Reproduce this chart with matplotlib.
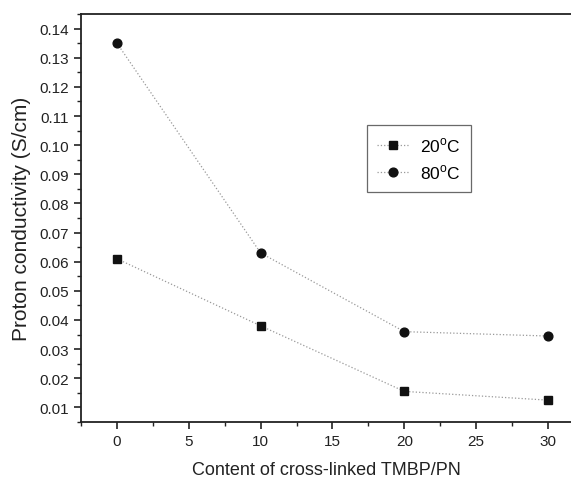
import matplotlib
matplotlib.use("Agg")
import matplotlib.pyplot as plt
from matplotlib.ticker import MultipleLocator

plt.rcParams['font.family'] = ['Liberation Sans', 'DejaVu Sans']
plt.rcParams['mathtext.fontset'] = 'custom'
plt.rcParams['mathtext.rm'] = 'Liberation Sans'

content = [0, 10, 20, 30]
cond_20C = [0.061, 0.038, 0.0155, 0.0125]
cond_80C = [0.135, 0.063, 0.036, 0.0345]
labels = ['20$^{\\mathrm{o}}$C', '80$^{\\mathrm{o}}$C']

fig = plt.figure(figsize=(5.71, 4.81), dpi=100)
ax = fig.add_axes([0.1419, 0.1206, 0.8581, 0.8482])

ax.plot(content, cond_20C, linestyle=':', color='#999999', lw=0.9,
        marker='s', markersize=5.5, markerfacecolor='#111111', markeredgecolor='#111111',
        label=labels[0])
ax.plot(content, cond_80C, linestyle=':', color='#999999', lw=0.9,
        marker='o', markersize=6.3, markerfacecolor='#111111', markeredgecolor='#111111',
        label=labels[1])

ax.set_xlim(-2.5, 31.6)
ax.set_ylim(0.005, 0.145)
ax.xaxis.set_major_locator(MultipleLocator(5))
ax.xaxis.set_minor_locator(MultipleLocator(2.5))
ax.yaxis.set_major_locator(MultipleLocator(0.01))
ax.yaxis.set_minor_locator(MultipleLocator(0.005))
ax.yaxis.set_major_formatter(matplotlib.ticker.FormatStrFormatter('%.2f'))

ax.spines['right'].set_visible(False)
for s in ['left', 'bottom', 'top']:
    ax.spines[s].set_linewidth(1.3)
    ax.spines[s].set_color('#222222')

ax.tick_params(axis='both', which='major', direction='out', length=5, width=1.2,
               labelsize=11, colors='#222222', pad=4)
ax.tick_params(axis='both', which='minor', direction='out', length=3, width=1.0,
               colors='#222222')
ax.tick_params(top=False, right=False, which='both')

ax.set_xlabel('Content of cross-linked TMBP/PN', fontsize=13, color='#222222', labelpad=9)
ax.set_ylabel('Proton conductivity (S/cm)', fontsize=15, color='#222222', labelpad=6)

leg = ax.legend(loc='upper left', bbox_to_anchor=(0.565, 0.75), fontsize=12.5,
                frameon=True, fancybox=False, edgecolor='#444444',
                handlelength=1.9, handletextpad=0.6, borderpad=0.6, labelspacing=0.5)
leg.get_frame().set_linewidth(0.9)

fig.savefig('out.png', dpi=100)
